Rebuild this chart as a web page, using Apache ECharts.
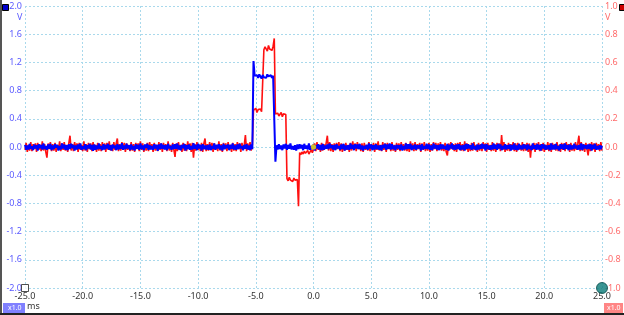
<!DOCTYPE html>
<html><head><meta charset="utf-8">
<script src="https://cdn.jsdelivr.net/npm/echarts@6/dist/echarts.min.js"></script>
<style>html,body{margin:0;padding:0;background:#fff}#c{width:624px;height:315px}</style>
</head><body><div id="c"></div><script>
// time base of the captured samples (ms)
const tStart = -25, tStep = 0.1;
const xMin = -25, xMax = 25, xInterval = 5;
const yLeftMin = -2, yLeftMax = 2, yLeftInterval = 0.4;
const yRightMin = -1, yRightMax = 1, yRightInterval = 0.2;

// Channel A (blue, left axis) in mV
const blueMv = [
30,-40,20,-35,45,-25,10,-45,35,-20,
25,-50,40,-15,30,-35,50,-30,15,-40,
35,-25,45,-45,20,-30,40,-10,30,-50,
15,-35,50,-20,35,-40,25,-45,40,-30,
45,-15,30,-50,20,-35,35,-25,50,-40,
10,-30,40,-45,25,-20,45,-35,30,-55,
35,-40,20,-30,50,-25,15,-45,40,-35,
30,-20,45,-40,25,-50,35,-15,20,-45,
40,-35,30,-25,55,-40,20,-30,45,-20,
25,-45,35,-35,15,-50,40,-25,30,-40,
50,-30,20,-45,35,-15,45,-40,25,-35,
15,-40,40,-20,30,-55,35,-30,50,-25,
30,-35,25,-45,45,-20,15,-40,35,-30,
40,-25,50,-35,20,-45,30,-15,45,-50,
25,-30,35,-40,15,-35,55,-25,30,-45,
45,-20,30,-50,40,-30,20,-35,25,-40,
35,-45,15,-25,50,-40,30,-20,40,-35,
20,-50,45,-30,25,-15,35,-45,30,-25,
50,-35,20,-40,35,-30,45,-20,15,-45,
30,-25,40,-35,20,-45,35,-30,
1220,1010,990,1020,980,1030,1000,970,1020,990,1010,980,1030,1000,990,1020,980,1010,1000,
-210,
25,-35,40,-30,20,-45,35,-20,45,-40,
30,-25,50,-35,15,-40,25,-50,35,-30,
40,-20,30,-45,45,-25,20,-35,50,-40,
15,-30,35,-50,25,-20,40,-35,30,-45,
45,-40,20,-25,35,-30,50,-15,25,-35,
30,-45,40,-20,15,-40,35,-30,45,-50,
20,-35,25,-40,50,-25,30,-45,40,-20,
35,-30,45,-35,20,-50,15,-25,30,-40,
50,-20,35,-45,25,-35,40,-30,20,-40,
25,-50,30,-15,45,-40,35,-25,50,-35,
40,-30,20,-45,30,-20,25,-40,35,-50,
15,-35,50,-30,40,-25,45,-45,20,-30,
35,-40,25,-20,30,-50,40,-35,15,-25,
45,-30,35,-40,20,-45,50,-20,30,-35,
25,-45,40,-30,35,-25,15,-40,45,-50,
30,-20,50,-35,25,-40,35,-30,40,-45,
20,-35,30,-50,45,-25,40,-20,25,-40,
50,-30,15,-45,35,-35,30,-25,45,-20,
35,-50,40,-30,20,-40,25,-35,50,-25,
30,-40,45,-20,35,-45,15,-30,40,-35,
25,-25,35,-50,30,-35,50,-40,20,-45,
45,-30,20,-35,40,-20,30,-45,35,-30,
15,-45,50,-25,25,-40,45,-35,30,-50,
40,-20,35,-40,20,-30,25,-45,50,-35,
30,-35,45,-30,15,-50,40,-25,35,-40,
50,-25,25,-45,35,-35,20,-30,45,-20,
20,-40,30,-35,50,-45,35,-20,25,-30,
35,-30,40,-50,30,-25,45,-40,15,-35,
25,-30,20
];

// Channel B (red, right axis) in mV
const redMv = [
-20,30,-35,15,-25,35,-30,20,-15,25,
-35,30,-20,15,-30,40,-25,20,-35,-75,
25,-15,35,-30,20,-25,30,-35,15,-20,
40,-30,25,-20,35,-25,15,-35,30,80,
-25,20,-30,35,-15,25,-35,30,-20,15,
-30,40,-25,20,-35,30,-15,25,-30,35,
-20,15,-35,30,-25,20,-30,35,-15,25,
-35,30,-20,40,-25,15,-30,35,-20,25,
60,-30,20,-25,35,-15,30,-35,25,-20,
15,-30,35,-25,20,-35,30,-15,25,-30,
40,-20,25,-35,15,-25,30,-30,35,-15,
20,-35,30,-25,15,-30,35,-20,25,-35,
30,-15,20,-30,40,-25,15,-35,30,-20,
-70,25,-30,35,-20,15,-35,30,-25,20,
-30,40,-15,25,-35,30,-75,20,-25,35,
-20,15,-30,30,-35,25,60,-30,20,-25,
35,-15,30,-35,25,-20,15,-30,40,-25,
20,-35,30,-15,25,-30,35,-20,15,-35,
30,-25,20,-30,35,-15,25,-35,30,-20,
15,85,-30,25,-20,35,-25,15,
260,250,275,245,265,255,270,250,260,
690,710,700,680,720,695,705,685,715,770,
235,225,240,220,230,245,215,235,225,230,
-225,-240,-215,-235,-230,-245,-220,-235,-225,-230,
-420,
-40,-55,-35,-50,-30,-45,-40,-25,-50,-35,-20,-40,-15,
25,-30,35,-20,15,-35,30,-25,20,-15,
30,80,-25,35,-30,20,-35,25,-20,30,
-15,35,-30,25,-35,20,-25,30,-20,15,
-35,30,-25,40,-20,25,-30,35,-15,20,
-30,25,-35,30,-20,15,-25,35,-30,20,
-15,30,-35,25,-20,40,-25,15,-30,35,
-20,25,-35,30,-15,20,-30,35,-25,15,
-35,30,-20,25,-30,35,-15,20,-25,30,
-30,15,-35,40,-20,25,-30,35,-25,20,
-15,30,-35,25,-20,35,-30,15,-25,30,
-35,20,-25,35,-15,30,-30,25,-20,35,
-25,15,-30,30,-35,-60,25,-20,35,-15,
20,-30,25,-35,30,-15,35,-25,20,-30,
40,-20,25,-35,15,-30,30,-25,35,-20,
15,-35,30,-25,20,-30,35,-15,25,-35,
30,-20,15,-30,35,-25,20,-35,30,-15,
25,-30,85,-20,35,-35,15,-25,30,-30,
20,-15,35,-30,25,-35,30,-20,15,-25,
35,-30,20,-25,30,-35,25,-75,15,-20,
30,-35,25,-15,35,-30,20,-25,30,-35,
15,-20,35,-30,25,-35,30,-15,20,-25,
35,-30,15,-35,30,-20,25,-30,35,-15,
20,-35,30,-25,15,-30,35,-20,25,80,
-30,35,-25,20,-35,30,-15,-60,25,-30,
35,-20,25,-35,30,-15,20,-30,35,-25
];

// marker points: [time ms, value]
const triggerPoint = [0, 0];          // yellow trigger marker (left axis)
const leftRulerPoint = [-25, -2];     // square marker (left axis)
const rightRulerPoint = [25, -1];     // teal circle (right axis)

const toPairs = arr => arr.map((v, i) => [+(tStart + i * tStep).toFixed(2), v / 1000]);

const chart = echarts.init(document.getElementById('c'), null, {renderer: 'canvas'});
const gridColor = '#a9d9ec';
const fmt = v => v.toFixed(1);
const FONT = 'Noto Sans';

chart.setOption({
  animation: false,
  backgroundColor: '#fff',
  grid: {left: 25, right: 22, top: 6, bottom: 27, containLabel: false},
  xAxis: {
    type: 'value', min: xMin, max: xMax, interval: xInterval,
    axisLine: {show: false}, axisTick: {show: false},
    axisLabel: {formatter: fmt, color: '#333', fontSize: 9, fontFamily: FONT, margin: 4},
    splitLine: {show: true, lineStyle: {color: gridColor, type: [2, 2], width: 1}}
  },
  yAxis: [{
    type: 'value', min: yLeftMin, max: yLeftMax, interval: yLeftInterval,
    axisLine: {show: false}, axisTick: {show: false},
    axisLabel: {formatter: fmt, color: '#5a5aff', fontSize: 9, fontFamily: FONT, margin: 3},
    splitLine: {show: true, lineStyle: {color: gridColor, type: [2, 2], width: 1}}
  }, {
    type: 'value', min: yRightMin, max: yRightMax, interval: yRightInterval, position: 'right',
    axisLine: {show: false}, axisTick: {show: false},
    axisLabel: {formatter: fmt, color: '#ff6b6b', fontSize: 9, fontFamily: FONT, margin: 3},
    splitLine: {show: false}
  }],
  series: [{
    type: 'line', yAxisIndex: 1, data: toPairs(redMv), showSymbol: false, symbol: 'none',
    lineStyle: {color: '#ff1010', width: 1.6}, sampling: null, z: 2
  }, {
    type: 'line', yAxisIndex: 0, data: toPairs(blueMv), showSymbol: false, symbol: 'none',
    lineStyle: {color: '#0000ff', width: 2}, z: 3
  }, {
    type: 'scatter', yAxisIndex: 0, data: [triggerPoint], symbol: 'circle', symbolSize: 5,
    itemStyle: {color: '#ffee00', borderColor: '#e0c000', borderWidth: 0.5}, z: 5, clip: false
  }, {
    type: 'scatter', yAxisIndex: 0, data: [leftRulerPoint], symbol: 'rect', symbolSize: 7,
    itemStyle: {color: '#fff', borderColor: '#222', borderWidth: 1}, z: 5, clip: false
  }, {
    type: 'scatter', yAxisIndex: 1, data: [rightRulerPoint], symbol: 'circle', symbolSize: 11,
    itemStyle: {color: '#0a7a78', borderColor: '#064a48', borderWidth: 1}, z: 5, clip: false
  }],
  graphic: [
    {type: 'rect', left: 0, top: 0, shape: {width: 2, height: 315}, style: {fill: '#555'}},
    {type: 'rect', left: 0, top: 313, shape: {width: 624, height: 2}, style: {fill: '#222'}},
    {type: 'rect', left: 2, top: 4, shape: {width: 6, height: 6}, style: {fill: '#0000cc', stroke: '#000', lineWidth: 1}},
    {type: 'rect', left: 619, top: 4, shape: {width: 6, height: 6}, style: {fill: '#cc0000', stroke: '#000', lineWidth: 1}},
    {type: 'text', left: 17, top: 13, style: {text: 'V', fill: '#5a5aff', font: '9px "Noto Sans"'}},
    {type: 'text', left: 605, top: 13, style: {text: 'V', fill: '#ff6b6b', font: '9px "Noto Sans"'}},
    {type: 'group', left: 3, top: 303, children: [
      {type: 'rect', shape: {width: 22, height: 10}, style: {fill: '#8080ff'}},
      {type: 'text', left: 5, top: 1, style: {text: 'x1.0', fill: '#fff', font: '7px "Noto Sans"'}}
    ]},
    {type: 'text', left: 27, top: 302, style: {text: 'ms', fill: '#333', font: '9px "Noto Sans"'}},
    {type: 'group', left: 604, top: 303, children: [
      {type: 'rect', shape: {width: 19, height: 10}, style: {fill: '#ff8585'}},
      {type: 'text', left: 3, top: 1, style: {text: 'x1.0', fill: '#fff', font: '7px "Noto Sans"'}}
    ]}
  ]
});
</script></body></html>
